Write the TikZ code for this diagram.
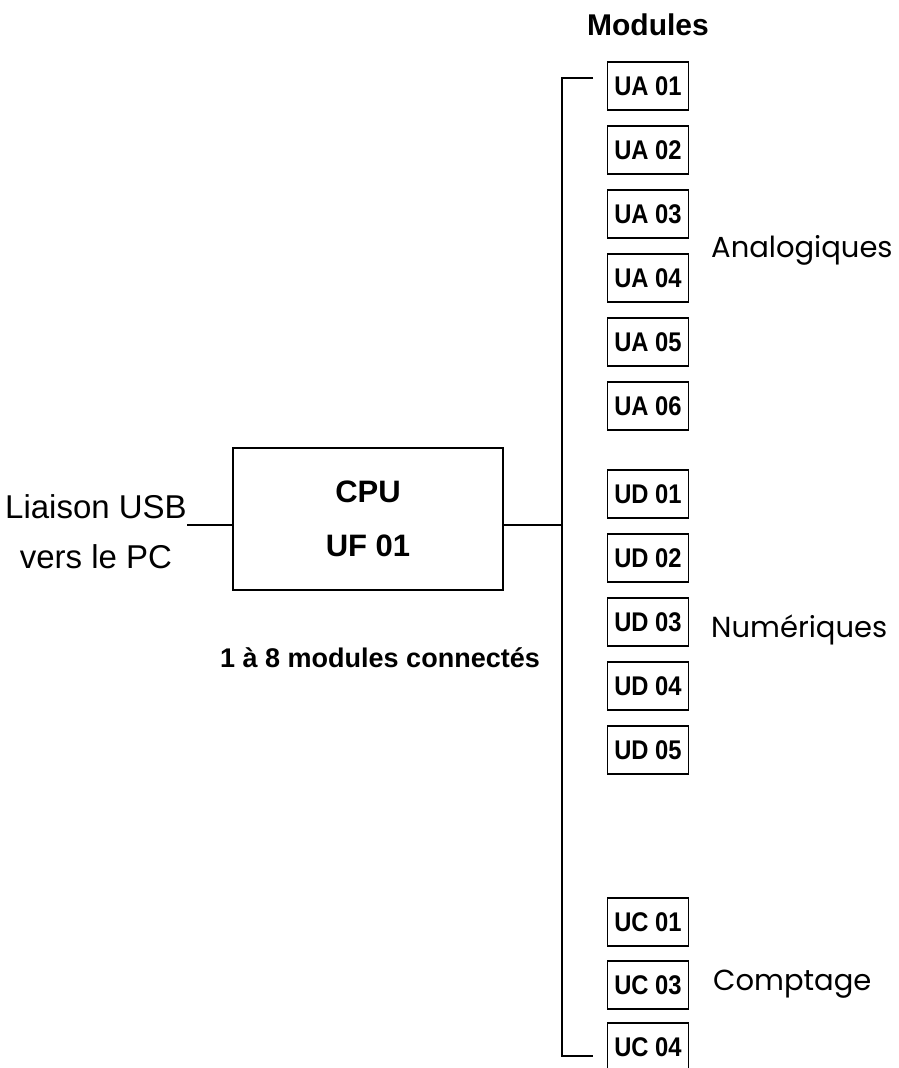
\documentclass[tikz,border=0pt]{standalone}
\usepackage{fontspec}
\setmainfont{Liberation Sans}
\newfontfamily\modfont[FakeStretch=0.88]{Liberation Sans}
\newfontfamily\gothfont{Poppins}
\usetikzlibrary{positioning}
\usetikzlibrary{math}

\tikzset{
  modbox/.style={draw, line width=1.5pt, minimum width=81pt, minimum height=48pt,
    inner sep=0pt, font=\modfont\bfseries\fontsize{27}{30}\selectfont},
  cpubox/.style={draw, line width=1.5pt, minimum width=270pt, minimum height=142pt,
    align=center, font=\bfseries\fontsize{31}{54}\selectfont},
  grouplabel/.style={anchor=base west, inner sep=0pt, font=\gothfont\fontsize{29}{30}\selectfont},
  wire/.style={line width=1.5pt}
}

\begin{document}
\begin{tikzpicture}[x=1pt, y=-1pt]
\tikzmath{
\bx=562;
\mx=648;
\dy=64;
}
\useasboundingbox (0,0) rectangle (899,1068);

% titre
\node[anchor=base, inner sep=0pt, font=\bfseries\fontsize{30}{32}\selectfont] (titre) at (\mx,35) {Modules};

% unite centrale
\node[cpubox] (cpu) at (368,519) {CPU\\UF 01};
\node[inner sep=0pt, align=center, font=\fontsize{33}{50}\selectfont] (usb) at (96,532) {Liaison USB\\vers le PC};
\node[anchor=base, inner sep=0pt, font=\bfseries\fontsize{27}{30}\selectfont] (nb) at (380,667) {1 à 8 modules connectés};

% modules
\foreach \n [count=\i from 0] in {01,02,03,04,05,06}
  \node[modbox] (ua\n) at (\mx,86+\dy*\i) {UA \n};
\foreach \n [count=\i from 0] in {01,02,03,04,05}
  \node[modbox] (ud\n) at (\mx,494+\dy*\i) {UD \n};
\foreach \n/\y in {01/922,03/985,04/1047}
  \node[modbox] (uc\n) at (\mx,\y) {UC \n};

\node[grouplabel] (ana) at (711,257) {Analogiques};
\node[grouplabel] (num) at (711,637) {Numériques};
\node[grouplabel] (cpt) at (713,990) {Comptage};

% bus
\coordinate (pc) at (187,525);
\coordinate (jonction) at (\bx,525);
\coordinate (bushaut) at (\bx,78);
\coordinate (busbas) at (\bx,1056);
\coordinate (hautfin) at (593,78);
\coordinate (basfin) at (593,1056);

\draw[wire] (pc) -- (cpu.west |- pc);
\draw[wire] (cpu.east |- jonction) -- (jonction);
\draw[wire] (hautfin) -- (bushaut) -- (busbas) -- (basfin);
\end{tikzpicture}
\end{document}
